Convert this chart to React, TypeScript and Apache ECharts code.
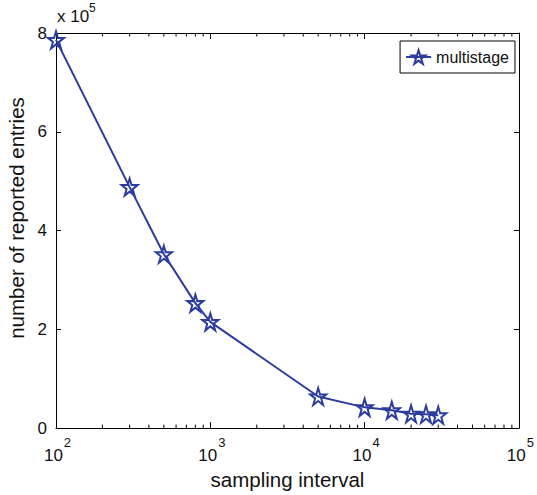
import React, { useEffect, useRef } from "react";
import * as echarts from "echarts";

const xValues = [100, 300, 500, 800, 1000, 5000, 10000, 15000, 20000, 25000, 30000];
const yValues = [786000, 488000, 352000, 253000, 215000, 64000, 42000, 36000, 29000, 28000, 26000];
const minorTicks = [200, 300, 400, 500, 600, 700, 800, 900, 2000, 3000, 4000, 5000, 6000, 7000, 8000, 9000, 20000, 30000, 40000, 50000, 60000, 70000, 80000, 90000];
const seriesName = "multistage";
const xName = "sampling interval";
const yName = "number of reported entries";

const BLUE = "#2c3c9e";
const FONT = "Liberation Sans, Arial, Helvetica, sans-serif";
const STAR =
  "path://M10 0 L12.25 6.91 L19.51 6.91 L13.63 11.18 L15.88 18.09 L10 13.82 L4.12 18.09 L6.37 11.18 L0.49 6.91 L7.75 6.91 Z";

export default function App() {
  const ref = useRef<HTMLDivElement>(null);
  useEffect(() => {
    if (!ref.current) return;
    const chart = echarts.init(ref.current, null, { renderer: "svg" });
    const yMax = 800000;
    const logLabel = (v: number) => {
      const e = Math.round(Math.log10(v));
      return `{b|10}{s|${e}}`;
    };
    chart.setOption({
      animation: false,
      backgroundColor: "#fff",
      textStyle: { fontFamily: FONT },
      grid: { left: 56, right: 16, top: 33, bottom: 64, containLabel: false },
      legend: {
        data: [seriesName],
        right: 22,
        top: 41,
        padding: [8, 6, 8, 5],
        itemWidth: 25,
        itemHeight: 17,
        borderColor: "#000",
        borderWidth: 1,
        borderRadius: 0,
        textStyle: { fontSize: 16, color: "#111", fontFamily: FONT },
      },
      xAxis: [
        {
          type: "log",
          logBase: 10,
          min: 100,
          max: 100000,
          position: "bottom",
          axisLine: { show: true, onZero: false, lineStyle: { color: "#000", width: 1 } },
          axisTick: { show: true, inside: true, length: 6, lineStyle: { color: "#000" } },
          splitLine: { show: false },
          axisLabel: {
            margin: 6,
            formatter: logLabel,
            rich: {
              b: { fontSize: 17, color: "#111", fontFamily: FONT, lineHeight: 30, verticalAlign: "bottom", padding: [0, 0, 0, 3] },
              s: { fontSize: 13, color: "#111", fontFamily: FONT, verticalAlign: "top", lineHeight: 30, padding: [2, 0, 0, 1] },
            },
          },
          name: xName,
          nameLocation: "middle",
          nameGap: 37,
          nameTextStyle: { fontSize: 20.5, color: "#111", fontFamily: FONT },
        },
        {
          type: "log",
          logBase: 10,
          min: 100,
          max: 100000,
          position: "top",
          axisLine: { show: true, onZero: false, lineStyle: { color: "#000", width: 1 } },
          axisTick: { show: true, inside: true, length: 6, lineStyle: { color: "#000" } },
          splitLine: { show: false },
          axisLabel: { show: false },
        },
      ],
      yAxis: [
        {
          type: "value",
          min: 0,
          max: yMax,
          interval: 200000,
          position: "left",
          axisLine: { show: true, onZero: false, lineStyle: { color: "#000", width: 1 } },
          axisTick: { show: true, inside: true, length: 5, lineStyle: { color: "#000" } },
          splitLine: { show: false },
          axisLabel: {
            margin: 9,
            fontSize: 17,
            color: "#111",
            fontFamily: FONT,
            formatter: (v: number) => String(v / 100000),
          },
        },
        {
          type: "value",
          min: 0,
          max: yMax,
          interval: 200000,
          position: "right",
          axisLine: { show: true, onZero: false, lineStyle: { color: "#000", width: 1 } },
          axisTick: { show: true, inside: true, length: 5, lineStyle: { color: "#000" } },
          splitLine: { show: false },
          axisLabel: { show: false },
        },
      ],
      graphic: [
        {
          type: "text",
          x: 16,
          y: 218,
          rotation: Math.PI / 2,
          style: {
            text: yName,
            fontSize: 20.5,
            fontFamily: FONT,
            fill: "#111",
            align: "center",
            verticalAlign: "middle",
          },
        },
        {
          type: "text",
          x: 57,
          y: 25,
          style: { text: "x 10", fontSize: 17, fontFamily: FONT, fill: "#111", align: "left", verticalAlign: "bottom" },
        },
        {
          type: "text",
          x: 89,
          y: 14,
          style: { text: "5", fontSize: 12, fontFamily: FONT, fill: "#111", align: "left", verticalAlign: "bottom" },
        },
      ],
      series: [
        {
          type: "custom",
          name: "minor",
          silent: true,
          xAxisIndex: 0,
          yAxisIndex: 0,
          data: minorTicks.map((v) => [v, 0]),
          encode: { x: 0, y: 1 },
          renderItem: (_params: any, api: any) => {
            const v = api.value(0);
            const b = api.coord([v, 0]);
            const t = api.coord([v, yMax]);
            return {
              type: "group",
              children: [
                { type: "line", shape: { x1: b[0], y1: b[1], x2: b[0], y2: b[1] - 3.5 }, style: { stroke: "#000", lineWidth: 1 } },
                { type: "line", shape: { x1: t[0], y1: t[1], x2: t[0], y2: t[1] + 3.5 }, style: { stroke: "#000", lineWidth: 1 } },
              ],
            };
          },
          z: 1,
        },
        {
          type: "line",
          name: seriesName,
          xAxisIndex: 0,
          yAxisIndex: 0,
          data: xValues.map((x, i) => [x, yValues[i]]),
          color: BLUE,
          symbol: STAR,
          symbolSize: [16, 17],
          showAllSymbol: true,
          lineStyle: { color: BLUE, width: 2 },
          itemStyle: { color: "rgba(255,255,255,0)", borderColor: BLUE, borderWidth: 2 },
          z: 3,
        },
      ],
    });
    return () => chart.dispose();
  }, []);
  return (
    <div
      ref={ref}
      style={{ position: "fixed", left: 0, top: 0, width: 537, height: 495, background: "#fff" }}
    />
  );
}
